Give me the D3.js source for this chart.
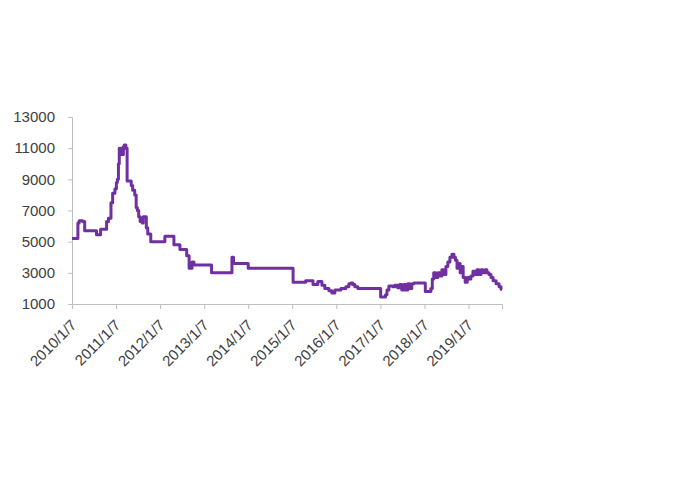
<!DOCTYPE html>
<html>
<head>
<meta charset="utf-8">
<script src="https://cdn.jsdelivr.net/npm/d3@7/dist/d3.min.js"></script>
<style>
  html, body { margin: 0; padding: 0; background: #fff; }
  svg { display: block; }
  .tick text { font-family: "Liberation Sans", Arial, sans-serif; font-size: 15px; fill: #404040; }
</style>
</head>
<body>
<svg id="chart" width="685" height="483"></svg>
<script>
const dates = [
  "2010-01-07","2010-02-25","2010-03-07","2010-04-05","2010-04-22","2010-07-29","2010-09-01","2010-10-21",
  "2010-11-05","2010-11-26","2010-12-10","2010-12-29","2011-01-10","2011-01-18","2011-01-27","2011-02-03",
  "2011-02-13","2011-02-21","2011-03-01","2011-03-09","2011-03-16","2011-03-30","2011-04-09","2011-05-13",
  "2011-05-25","2011-06-11","2011-06-23","2011-07-03","2011-07-14","2011-07-26","2011-08-12","2011-08-20",
  "2011-09-15","2011-09-27","2011-10-22","2012-02-16","2012-05-01","2012-06-20","2012-08-15","2012-09-04",
  "2012-09-28","2012-10-14","2013-03-09","2013-08-25","2013-09-07","2014-01-07","2015-01-14","2015-04-28",
  "2015-06-28","2015-08-07","2015-09-10","2015-10-04","2015-11-07","2015-12-01","2015-12-26","2016-02-14",
  "2016-03-26","2016-04-20","2016-05-07","2016-05-22","2016-06-09","2016-07-04","2017-01-09","2017-02-18",
  "2017-03-02","2017-03-18","2017-04-19","2017-05-06","2017-05-30","2017-06-16","2017-07-03","2017-07-20",
  "2017-08-05","2017-08-22","2017-09-07","2017-09-24","2017-10-11","2018-01-14","2018-03-01","2018-03-13",
  "2018-03-25","2018-04-11","2018-04-28","2018-05-14","2018-05-31","2018-06-17","2018-07-04","2018-07-20",
  "2018-08-06","2018-08-23","2018-09-09","2018-09-21","2018-10-04","2018-10-17","2018-10-30","2018-11-11",
  "2018-11-24","2018-12-11","2018-12-28","2019-01-10","2019-01-27","2019-02-13","2019-03-01","2019-03-18",
  "2019-04-03","2019-04-20","2019-05-07","2019-05-23","2019-06-09","2019-06-26","2019-07-13","2019-07-30",
  "2019-08-24","2019-09-18","2019-10-04","2019-10-12"
];
const values = [
  5200,6200,6350,6300,5700,5450,5800,6300,
  6500,7500,8100,8400,8800,9000,10000,11000,
  10600,11000,10600,11100,11200,11000,8900,8600,
  8300,8000,7200,7000,6600,6300,6200,6600,
  5900,5500,5000,5350,4800,4500,4100,3300,
  3700,3500,3000,4000,3600,3300,2400,2500,
  2250,2450,2200,2000,1850,1700,1900,2000,
  2100,2300,2350,2250,2100,2000,1450,1600,
  1900,2150,2100,2200,2050,2250,1900,2250,
  1900,2300,2000,2300,2350,1800,2000,2600,
  3000,2700,3000,2800,3200,2900,3400,3700,
  4000,4200,4000,3800,3300,3600,3000,3400,
  2700,2400,2700,2600,2800,3100,2900,3200,
  2900,3200,3000,3200,3000,2900,2700,2500,
  2300,2100,1950,1950
];
const xTickLabels = ["2010/1/7","2011/1/7","2012/1/7","2013/1/7","2014/1/7","2015/1/7","2016/1/7","2017/1/7","2018/1/7","2019/1/7"];
const yTicks = [1000,3000,5000,7000,9000,11000,13000];

const parse = d3.timeParse("%Y-%m-%d");
const data = dates.map((d, i) => ({ date: parse(d), value: values[i] }));
const tickDates = xTickLabels.map(s => d3.timeParse("%Y/%m/%d")(s));

const svg = d3.select("#chart");
const mLeft = 72, mRight = 502, mTop = 117, mBottom = 304;

const x = d3.scaleTime()
  .domain([data[0].date, data[data.length - 1].date])
  .range([mLeft, mRight]);
const y = d3.scaleLinear().domain([1000, 13000]).range([mBottom, mTop]);

// Y axis
const yAxis = svg.append("g")
  .attr("transform", `translate(${mLeft},0)`)
  .call(d3.axisLeft(y).tickValues(yTicks).tickSize(4).tickPadding(13).tickFormat(d3.format("d")));
yAxis.select(".domain").attr("stroke", "#bfbfbf");
yAxis.selectAll(".tick line").attr("stroke", "#bfbfbf");

// X axis
const xAxis = svg.append("g")
  .attr("transform", `translate(0,${mBottom})`)
  .call(d3.axisBottom(x).tickValues(tickDates).tickSize(5)
    .tickFormat((d, i) => xTickLabels[i]));
xAxis.select(".domain").attr("stroke", "#bfbfbf");
xAxis.selectAll(".tick line").attr("stroke", "#bfbfbf");
xAxis.selectAll(".tick text")
  .attr("text-anchor", "end")
  .attr("dy", null)
  .attr("y", 0)
  .attr("transform", "translate(5,22) rotate(-45)");

// Line
const line = d3.line()
  .x(d => x(d.date))
  .y(d => y(d.value))
  .curve(d3.curveStepAfter);

svg.append("path")
  .datum(data)
  .attr("fill", "none")
  .attr("stroke", "#7030A0")
  .attr("stroke-width", 3)
  .attr("stroke-linejoin", "round")
  .attr("d", line);
</script>
</body>
</html>
